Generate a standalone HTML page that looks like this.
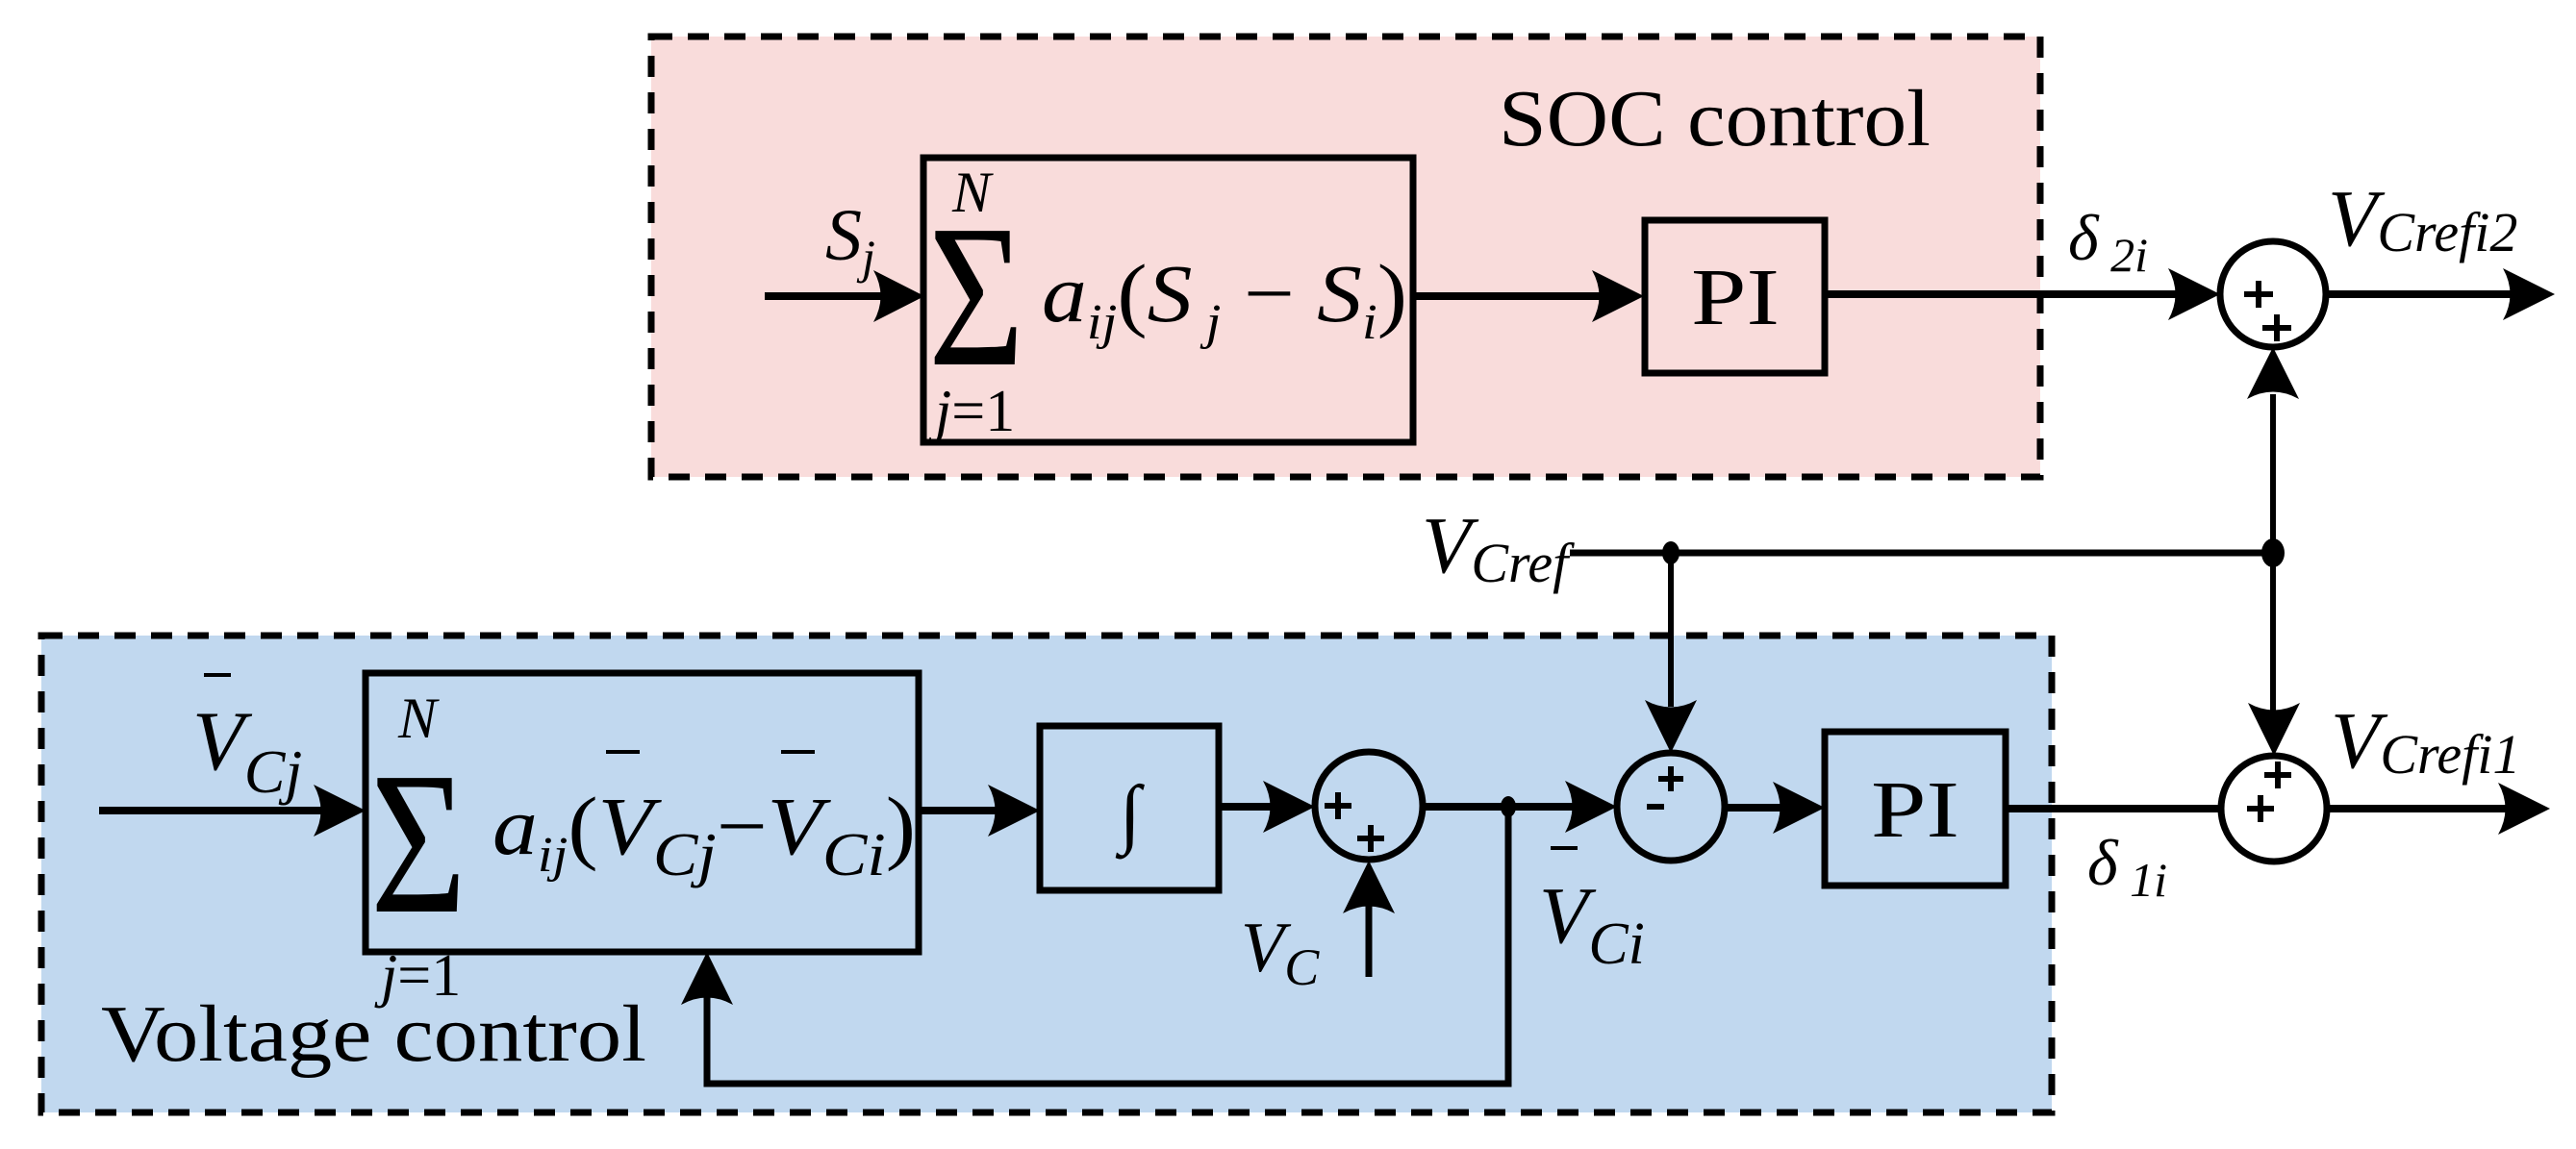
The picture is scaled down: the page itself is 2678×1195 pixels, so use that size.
<!DOCTYPE html>
<html><head><meta charset="utf-8"><style>html,body{margin:0;padding:0;background:#fff}svg{display:block}text{font-family:"Liberation Serif",serif}</style></head>
<body>
<svg width="2678" height="1195" viewBox="0 0 2678 1195" xmlns="http://www.w3.org/2000/svg">
<rect x="677" y="38" width="1444" height="458" fill="#f9dcdb" stroke="#000" stroke-width="7" stroke-dasharray="22,16"/>
<rect x="43" y="661" width="2090" height="496" fill="#c1d8ef" stroke="#000" stroke-width="7" stroke-dasharray="22,16"/>

<g fill="none" stroke="#000" stroke-width="7">
<rect x="960" y="164" width="509" height="296"/>
<rect x="1710" y="229" width="187" height="159"/>
<rect x="380" y="700" width="575" height="290"/>
<rect x="1081" y="755" width="186" height="171"/>
<rect x="1897" y="761" width="188" height="160"/>
<circle cx="2363" cy="306" r="55"/>
<circle cx="1423" cy="838" r="56"/>
<circle cx="1737" cy="839" r="56"/>
<circle cx="2364" cy="841" r="55"/>
</g>

<g stroke="#000" stroke-width="8" fill="none">
<line x1="795" y1="308" x2="920" y2="308"/>
<line x1="1469" y1="308" x2="1670" y2="308"/>
<line x1="1897" y1="306" x2="2270" y2="306"/>
<line x1="2418" y1="306" x2="2620" y2="306"/>
<line x1="103" y1="843" x2="345" y2="843"/>
<line x1="955" y1="843" x2="1045" y2="843"/>
<line x1="1267" y1="839" x2="1330" y2="839"/>
<line x1="1479" y1="839" x2="1645" y2="839"/>
<line x1="1793" y1="840" x2="1860" y2="840"/>
<line x1="2085" y1="841" x2="2309" y2="841"/>
<line x1="2419" y1="841" x2="2615" y2="841"/>
<polyline points="1568,839 1568,1127 735,1127 735,1035" stroke-width="7"/>
<line x1="1632" y1="575" x2="2363" y2="575" stroke-width="7"/>
<line x1="2363" y1="575" x2="2363" y2="410" stroke-width="6"/>
<line x1="2363" y1="575" x2="2363" y2="740" stroke-width="6"/>
<line x1="1737" y1="575" x2="1737" y2="735" stroke-width="6"/>
<line x1="1423" y1="1016" x2="1423" y2="940" stroke-width="7"/>
</g>

<g fill="#000">
<path d="M961,308 L908,281 Q923,308 908,335 Z"/>
<path d="M1709,308 L1655,281 Q1670,308 1655,335 Z"/>
<path d="M2308,306 L2254,279 Q2269,306 2254,333 Z"/>
<path d="M2656,306 L2602,279 Q2617,306 2602,333 Z"/>
<path d="M380,843 L326,816 Q341,843 326,870 Z"/>
<path d="M1081,843 L1027,816 Q1042,843 1027,870 Z"/>
<path d="M1367,839 L1313,812 Q1328,839 1313,866 Z"/>
<path d="M1681,839 L1627,812 Q1642,839 1627,866 Z"/>
<path d="M1897,840 L1843,813 Q1858,840 1843,867 Z"/>
<path d="M2651,841 L2597,814 Q2612,841 2597,868 Z"/>
<path d="M2363,361 L2336,415 Q2363,400 2390,415 Z"/>
<path d="M1423,895 L1396,950 Q1423,935 1450,950 Z"/>
<path d="M735,990 L708,1045 Q735,1030 762,1045 Z"/>
<path d="M1737,783 L1710,728 Q1737,743 1764,728 Z"/>
<path d="M2364,786 L2337,731 Q2364,746 2391,731 Z"/>
<ellipse cx="1737" cy="575" rx="9" ry="12"/>
<ellipse cx="2363" cy="575" rx="12" ry="15"/>
<ellipse cx="1568" cy="839" rx="8" ry="11"/>
</g>

<g stroke="#000" stroke-width="6">
<line x1="2333" y1="306" x2="2363" y2="306"/><line x1="2348" y1="292" x2="2348" y2="320"/>
<line x1="2352" y1="341" x2="2382" y2="341"/><line x1="2367" y1="327" x2="2367" y2="355"/>
<line x1="1377" y1="838" x2="1405" y2="838"/><line x1="1391" y1="824" x2="1391" y2="852"/>
<line x1="1411" y1="872" x2="1439" y2="872"/><line x1="1425" y1="858" x2="1425" y2="886"/>
<line x1="1712" y1="839" x2="1730" y2="839"/>
<line x1="1724" y1="810" x2="1750" y2="810"/><line x1="1737" y1="797" x2="1737" y2="823"/>
<line x1="2336" y1="841" x2="2364" y2="841"/><line x1="2350" y1="827" x2="2350" y2="855"/>
<line x1="2354" y1="806" x2="2382" y2="806"/><line x1="2368" y1="792" x2="2368" y2="820"/>
</g>

<g fill="#000">
<text x="1558" y="151" font-size="84" textLength="449" lengthAdjust="spacingAndGlyphs">SOC control</text>
<text x="105" y="1103" font-size="84" textLength="567" lengthAdjust="spacingAndGlyphs">Voltage control</text>
<text x="1758" y="337" font-size="84" textLength="92" lengthAdjust="spacingAndGlyphs">PI</text>
<text x="1945" y="870" font-size="84" textLength="92" lengthAdjust="spacingAndGlyphs">PI</text>
<text x="1175" y="872" font-size="80" font-style="italic" text-anchor="middle">∫</text>

<text x="965" y="379" font-size="212" textLength="100" lengthAdjust="spacingAndGlyphs">Σ</text>
<text x="990" y="220" font-size="60" font-style="italic">N</text>
<text x="972" y="448" font-size="62"><tspan font-style="italic">j</tspan>=1</text>
<text x="1083" y="334" font-size="86" font-style="italic" textLength="380" lengthAdjust="spacingAndGlyphs">a<tspan font-size="52" dy="18">ij</tspan><tspan font-style="normal" dy="-18">(</tspan>S<tspan font-size="52" dy="18"> j</tspan><tspan font-style="normal" dy="-18"> − </tspan>S<tspan font-size="52" dy="18">i</tspan><tspan font-style="normal" dy="-18">)</tspan></text>
<text x="858" y="270" font-size="76" font-style="italic">S<tspan font-size="50" dy="14">j</tspan></text>

<text x="385" y="948" font-size="212" textLength="100" lengthAdjust="spacingAndGlyphs">Σ</text>
<text x="414" y="767" font-size="60" font-style="italic">N</text>
<text x="396" y="1035" font-size="62"><tspan font-style="italic">j</tspan>=1</text>
<text x="512" y="888" font-size="86" font-style="italic" textLength="440" lengthAdjust="spacingAndGlyphs">a<tspan font-size="52" dy="18">ij</tspan><tspan font-style="normal" dy="-18">(</tspan>V<tspan font-size="64" dy="22">Cj</tspan><tspan font-style="normal" dy="-22">−</tspan>V<tspan font-size="64" dy="22">Ci</tspan><tspan font-style="normal" dy="-22">)</tspan></text>
<rect x="630" y="780" width="35" height="4"/>
<rect x="812" y="780" width="35" height="4"/>

<text x="200" y="800" font-size="88" font-style="italic">V<tspan font-size="64" dy="24">Cj</tspan></text>
<rect x="212" y="700" width="28" height="4"/>
<text x="1290" y="1010" font-size="74" font-style="italic">V<tspan font-size="54" dy="14">C</tspan></text>
<text x="1600" y="980" font-size="84" font-style="italic">V<tspan font-size="62" dy="22">Ci</tspan></text>
<rect x="1612" y="880" width="28" height="4"/>
<text x="1478" y="595" font-size="84" font-style="italic">V<tspan font-size="58" dy="10">Cref</tspan></text>
<text x="2150" y="270" font-size="68" font-style="italic">δ<tspan font-size="50" dy="12"> 2i</tspan></text>
<text x="2170" y="920" font-size="68" font-style="italic">δ<tspan font-size="50" dy="12"> 1i</tspan></text>
<text x="2420" y="255" font-size="84" font-style="italic">V<tspan font-size="58" dy="6">Crefi2</tspan></text>
<text x="2423" y="798" font-size="84" font-style="italic">V<tspan font-size="58" dy="6">Crefi1</tspan></text>
</g>
</svg>
</body></html>
